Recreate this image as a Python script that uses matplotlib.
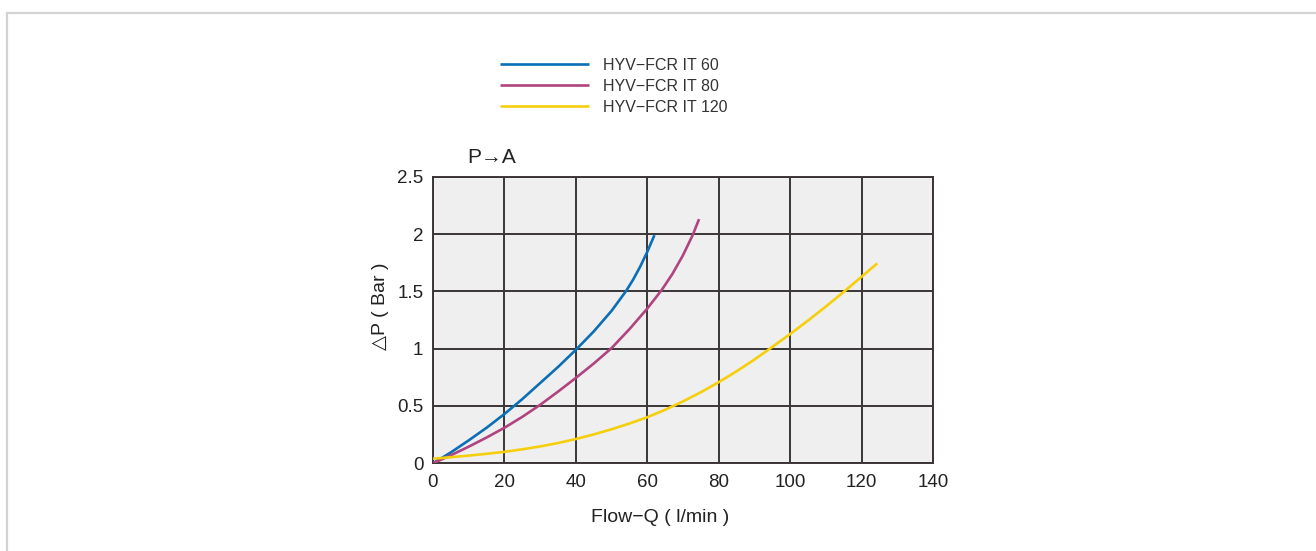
import matplotlib
matplotlib.use("Agg")
import matplotlib.pyplot as plt
from matplotlib.lines import Line2D

plt.rcParams['font.family'] = ['Liberation Sans', 'DejaVu Sans']

# Data
series_names = ["HYV\u2212FCR IT 60", "HYV\u2212FCR IT 80", "HYV\u2212FCR IT 120"]
q60 = [0, 5, 10, 15, 20, 25, 30, 35, 40, 45, 50, 54, 56, 58, 60, 62]
p60 = [0, 0.095, 0.2, 0.31, 0.43, 0.56, 0.70, 0.84, 0.99, 1.15, 1.33, 1.5, 1.6, 1.715, 1.845, 1.99]
q80 = [0, 5, 10, 15, 20, 25, 30, 35, 40, 45, 50, 55, 60, 64, 67, 70, 72.7, 74.5]
p80 = [0, 0.07, 0.145, 0.225, 0.31, 0.405, 0.51, 0.625, 0.745, 0.87, 1.005, 1.17, 1.35, 1.51, 1.65, 1.815, 1.99, 2.13]
q120 = [0, 5, 10, 15, 20, 25, 30, 35, 40, 45, 50, 55, 60, 65, 70, 75, 80, 85, 90, 95, 100, 105, 110, 115, 120, 124.4]
p120 = [0.04, 0.053, 0.067, 0.083, 0.10, 0.122, 0.147, 0.177, 0.212, 0.252, 0.297, 0.347, 0.402, 0.467, 0.54,
        0.62, 0.7075, 0.8025, 0.905, 1.015, 1.1275, 1.245, 1.3675, 1.495, 1.6275, 1.744]
colors = ["#0b6fb6", "#b0447f", "#f6cf0c"]
xticks = [0, 20, 40, 60, 80, 100, 120, 140]
yticks = [0, 0.5, 1, 1.5, 2, 2.5]
ytick_labels = ["0", "0.5", "1", "1.5", "2", "2.5"]

W, H = 1316, 551
fig = plt.figure(figsize=(W / 100, H / 100), dpi=100)
fig.patch.set_facecolor("white")

# frame lines (top and left)
fig.add_artist(Line2D([7 / W, 1.0], [1 - 13 / H, 1 - 13 / H], color="#d2d2d2", lw=1.6))
fig.add_artist(Line2D([7 / W, 7 / W], [0, 1 - 13 / H], color="#d2d2d2", lw=1.6))

left, right = 433 / W, 933 / W
bottom, top = 1 - 463.3 / H, 1 - 176.7 / H
ax = fig.add_axes([left, bottom, right - left, top - bottom])
ax.set_facecolor("#efefef")
ax.set_xlim(0, 140)
ax.set_ylim(0, 2.5)
ax.set_xticks(xticks)
ax.set_yticks(yticks)
ax.set_yticklabels(ytick_labels)
ax.grid(True, color="#3b3535", lw=1.4)
ax.set_axisbelow(True)
for s in ax.spines.values():
    s.set_color("#3b3535")
    s.set_linewidth(1.4)
ax.tick_params(length=0, labelsize=13.5, colors="#222222")
ax.tick_params(axis='x', pad=8)
ax.tick_params(axis='y', pad=7)

lines = []
for q, p, c, n in zip([q60, q80, q120], [p60, p80, p120], colors, series_names):
    ln, = ax.plot(q, p, color=c, lw=1.9, label=n, solid_capstyle='butt',
                  solid_joinstyle='round', zorder=3)
    lines.append(ln)

fig.text(660 / W, 1 - 517 / H, "Flow\u2212Q ( l/min )", fontsize=14, color="#222222",
         ha="center", va="center")
fig.text(381 / W, 1 - 306 / H, "\u25b3P ( Bar )", fontsize=14, color="#222222",
         ha="center", va="center", rotation=90)
fig.text(467 / W, 1 - 158 / H, "P\u2192A", fontsize=15, color="#222222",
         ha="left", va="center")

leg = fig.legend(handles=lines, loc="upper left", bbox_to_anchor=(500 / W, 1 - 58 / H),
                 frameon=False, fontsize=11.5, handlelength=5.6, handletextpad=0.85,
                 labelspacing=0.37, borderpad=0, borderaxespad=0)
for t in leg.get_texts():
    t.set_color("#333333")

fig.savefig("out.png", dpi=100, facecolor="white")
